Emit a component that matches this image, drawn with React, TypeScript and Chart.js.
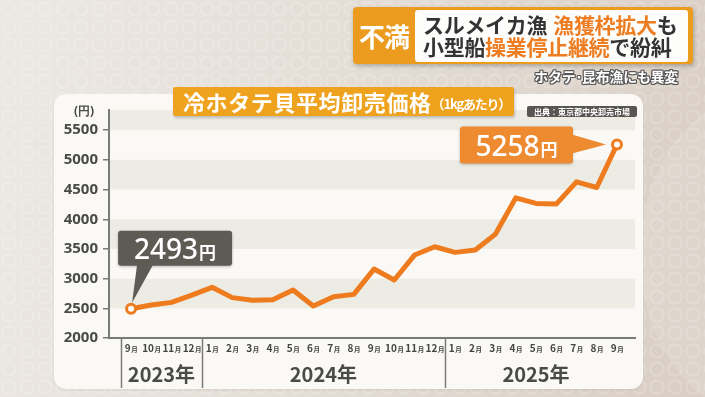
import React, { useEffect, useRef } from "react";
import { Chart, registerables } from "chart.js";

Chart.register(...registerables);

const months = ["9", "10", "11", "12", "1", "2", "3", "4", "5", "6", "7", "8", "9", "10", "11", "12", "1", "2", "3", "4", "5", "6", "7", "8", "9"];
const prices = [2493, 2555, 2600, 2723, 2853, 2680, 2635, 2645, 2808, 2538, 2695, 2735, 3161, 2976, 3397, 3537, 3442, 3481, 3750, 4360, 4266, 4255, 4630, 4535, 5258];
const years = ["2023年", "2024年", "2025年"];
const yearStart = [0, 4, 16];
const yTicks = [2000, 2500, 3000, 3500, 4000, 4500, 5000, 5500];
const startLabel = "2493";
const endLabel = "5258";
const yenLabel = "円";
const monthSuffix = "月";

const ORANGE_LINE = "#ee7b1d";
const JP = "'Noto Sans CJK JP', 'Noto Sans', sans-serif";

const decor = {
  id: "decor",
  beforeDraw(chart: any) {
    const { ctx, chartArea: a, scales } = chart;
    const y = scales.y;
    ctx.save();
    ctx.fillStyle = "#ecebe4";
    for (let k = 1; k < yTicks.length; k += 2) {
      const top = k + 1 < yTicks.length ? y.getPixelForValue(yTicks[k + 1]) : a.top;
      const bot = y.getPixelForValue(yTicks[k]);
      ctx.fillRect(a.left, top, a.right - a.left, bot - top);
    }
    ctx.restore();
  },
  afterDraw(chart: any) {
    const { ctx, chartArea: a, scales } = chart;
    const x = scales.x;
    const y = scales.y;
    ctx.save();
    ctx.fillStyle = "#444";
    ctx.textBaseline = "alphabetic";
    months.forEach((m, i) => {
      const px = x.getPixelForValue(i);
      ctx.font = `bold 10px ${JP}`;
      const w1 = ctx.measureText(m).width;
      ctx.font = `bold 6.5px ${JP}`;
      const w2 = ctx.measureText(monthSuffix).width;
      const sx = px - (w1 + w2) / 2;
      ctx.font = `bold 10px ${JP}`;
      ctx.fillText(m, sx, a.bottom + 14);
      ctx.font = `bold 6.5px ${JP}`;
      ctx.fillText(monthSuffix, sx + w1 + 0.5, a.bottom + 14);
    });
    ctx.strokeStyle = "#7a7a7a";
    ctx.lineWidth = 1.5;
    years.forEach((yr, k) => {
      const s = yearStart[k] - 0.5;
      const e = (k + 1 < yearStart.length ? yearStart[k + 1] : months.length) - 0.5;
      const sx = Math.round(x.getPixelForValue(s)) + 0.5;
      ctx.beginPath();
      ctx.moveTo(sx, a.bottom);
      ctx.lineTo(sx, a.bottom + 50);
      ctx.stroke();
      const cx = (x.getPixelForValue(s) + x.getPixelForValue(e)) / 2;
      ctx.font = `bold 20px ${JP}`;
      ctx.textAlign = "center";
      ctx.fillStyle = "#4a4a4a";
      ctx.fillText(yr, cx, a.bottom + 44);
      ctx.textAlign = "left";
    });

    const drawValue = (txt: string, cx: number, baseY: number) => {
      ctx.font = `500 28px 'Noto Sans', sans-serif`;
      const w1 = ctx.measureText(txt).width;
      ctx.font = `bold 17px ${JP}`;
      const w2 = ctx.measureText(yenLabel).width;
      const sx = cx - (w1 + w2 + 1) / 2;
      ctx.fillStyle = "#ffffff";
      ctx.font = `500 28px 'Noto Sans', sans-serif`;
      ctx.fillText(txt, sx, baseY);
      ctx.font = `bold 17px ${JP}`;
      ctx.fillText(yenLabel, sx + w1 + 1, baseY);
    };

    const p0x = x.getPixelForValue(0);
    const p0y = y.getPixelForValue(prices[0]);
    {
      const left = p0x - 13, top = p0y - 78, w = 114, h = 35;
      ctx.shadowColor = "rgba(0,0,0,0.25)";
      ctx.shadowBlur = 3;
      ctx.shadowOffsetY = 1;
      ctx.fillStyle = "#5e5b54";
      ctx.beginPath();
      ctx.roundRect(left, top, w, h, 3);
      ctx.fill();
      ctx.shadowColor = "transparent";
      ctx.beginPath();
      ctx.moveTo(p0x + 6, top + h - 1);
      ctx.lineTo(p0x + 22, top + h - 1);
      ctx.lineTo(p0x + 1, p0y - 6);
      ctx.closePath();
      ctx.fill();
      drawValue(startLabel, left + w / 2, top + 28);
    }
    const n = prices.length - 1;
    const pnx = x.getPixelForValue(n);
    const pny = y.getPixelForValue(prices[n]);
    {
      const right = pnx - 44, w = 113, h = 37, left = right - w, top = pny - 18;
      ctx.shadowColor = "rgba(0,0,0,0.25)";
      ctx.shadowBlur = 3;
      ctx.shadowOffsetY = 1;
      ctx.fillStyle = "#ee8a30";
      ctx.beginPath();
      ctx.roundRect(left, top, w, h, 3);
      ctx.fill();
      ctx.shadowColor = "transparent";
      ctx.beginPath();
      ctx.moveTo(right - 1, pny - 10);
      ctx.lineTo(right - 1, pny + 9);
      ctx.lineTo(pnx - 11, pny);
      ctx.closePath();
      ctx.fill();
      drawValue(endLabel, left + w / 2, top + 29);
    }
    ctx.restore();
  },
};

function PriceChart() {
  const ref = useRef<HTMLCanvasElement>(null);
  useEffect(() => {
    if (!ref.current) return;
    const radii = prices.map((_, i) => (i === 0 || i === prices.length - 1 ? 4.5 : 0));
    const chart = new Chart(ref.current, {
      type: "line",
      data: {
        datasets: [
          {
            data: prices.map((v, i) => ({ x: i, y: v })),
            borderColor: ORANGE_LINE,
            borderWidth: 5,
            tension: 0,
            borderJoinStyle: "round",
            borderCapStyle: "round",
            pointRadius: radii,
            pointBackgroundColor: "#ffffff",
            pointBorderColor: ORANGE_LINE,
            pointBorderWidth: 3,
            clip: false as any,
          },
        ],
      },
      options: {
        animation: false,
        responsive: false,
        maintainAspectRatio: false,
        events: [],
        layout: { padding: { left: 59, top: 110, right: 70, bottom: 0 } },
        plugins: { legend: { display: false }, tooltip: { enabled: false } },
        scales: {
          x: {
            type: "linear",
            min: -1.09,
            max: 24.89,
            ticks: { display: false },
            grid: { display: false, drawTicks: false },
            border: { display: true, color: "#7a7a7a", width: 2 },
            afterFit(s: any) {
              s.height = 59;
            },
          },
          y: {
            min: 2000,
            max: 5840,
            afterBuildTicks(s: any) {
              s.ticks = yTicks.map((v) => ({ value: v }));
            },
            ticks: {
              color: "#4a4a4a",
              font: { size: 15, weight: "bold", family: "'Noto Sans', sans-serif" },
              padding: 5,
              callback: (v: any) => String(v),
            },
            grid: { drawOnChartArea: false, drawTicks: true, tickLength: 6, color: "#7a7a7a", lineWidth: 1.5 },
            border: { display: true, color: "#7a7a7a", width: 2 },
            afterFit(s: any) {
              s.width = 50;
            },
          },
        },
      },
      plugins: [decor],
    } as any);
    return () => chart.destroy();
  }, []);
  return (
    <canvas
      ref={ref}
      width={705}
      height={397}
      style={{ position: "absolute", left: 0, top: 0, width: 705, height: 397, zIndex: 1 }}
    />
  );
}

export default function App() {
  useEffect(() => {
    document.body.style.margin = "0";
  }, []);
  const ring = "radial-gradient(circle, transparent 5px, rgba(255,255,255,0.22) 6px, rgba(255,255,255,0.22) 7px, transparent 8px)";
  return (
    <div
      style={{
        position: "fixed",
        left: 0,
        top: 0,
        width: 705,
        height: 397,
        overflow: "hidden",
        fontFamily: JP,
        background: "linear-gradient(100deg, #ece8e3 0%, #e4ded7 45%, #d9cec3 100%)",
      }}
    >
      <div style={{ position: "absolute", inset: 0, backgroundImage: ring, backgroundSize: "18px 18px", opacity: 0.8 }} />
      <div
        style={{
          position: "absolute",
          left: 640,
          top: 90,
          width: 260,
          height: 330,
          borderRadius: "50%",
          background: "rgba(255,255,255,0.12)",
        }}
      />
      <div
        style={{
          position: "absolute",
          left: 54,
          top: 94,
          width: 589,
          height: 295,
          borderRadius: 12,
          background: "#faf9f5",
          boxShadow: "0 1px 3px rgba(0,0,0,0.08)",
        }}
      />
      <div style={{ position: "absolute", left: 74, top: 102, fontSize: 12, fontWeight: 700, color: "#4a4a4a", zIndex: 2, fontFamily: "'Noto Sans', sans-serif" }}>
        (円)
      </div>
      <PriceChart />
      <div
        style={{
          position: "absolute",
          left: 173,
          top: 87,
          height: 29,
          background: "#eea21d",
          borderRadius: 2,
          boxShadow: "1px 2px 3px rgba(0,0,0,0.2)",
          zIndex: 2,
          color: "#fff",
          fontWeight: 700,
          whiteSpace: "nowrap",
          display: "flex",
          alignItems: "center",
          paddingLeft: 10,
          paddingRight: 4,
          boxSizing: "border-box",
        }}
      >
        <span style={{ fontSize: 22, letterSpacing: 0.6, lineHeight: "29px" }}>冷ホタテ貝平均卸売価格</span>
        <span style={{ fontSize: 13, letterSpacing: -1.2, lineHeight: "29px", marginTop: 3 }}>（1kgあたり）</span>
      </div>
      <div
        style={{
          position: "absolute",
          left: 527,
          top: 106,
          width: 110,
          height: 11,
          background: "#585652",
          borderRadius: 2,
          color: "#fff",
          fontSize: 8,
          lineHeight: "11px",
          textAlign: "center",
          zIndex: 2,
          whiteSpace: "nowrap",
          fontWeight: 700,
        }}
      >
        出典：東京都中央卸売市場
      </div>
      <div
        style={{
          position: "absolute",
          left: 353,
          top: 7,
          width: 340,
          height: 57,
          background: "#eb9c1f",
          borderRadius: 4,
          boxShadow: "1px 2px 4px rgba(0,0,0,0.25)",
          zIndex: 3,
        }}
      >
        <div
          style={{
            position: "absolute",
            left: 0,
            top: 0,
            width: 62,
            height: 57,
            color: "#fff",
            fontSize: 26,
            fontWeight: 700,
            lineHeight: "57px",
            textAlign: "center",
            letterSpacing: -1,
          }}
        >
          不満
        </div>
        <div
          style={{
            position: "absolute",
            left: 62,
            top: 3,
            width: 273,
            height: 52,
            background: "#fdfdfc",
            borderRadius: 3,
            color: "#333",
            fontSize: 21,
            fontWeight: 700,
            lineHeight: "22px",
            paddingLeft: 8,
            paddingTop: 3,
            boxSizing: "border-box",
            whiteSpace: "nowrap",
            letterSpacing: -0.3,
          }}
        >
          <div>
            スルメイカ漁<span style={{ display: "inline-block", width: 6 }} />
            <span style={{ color: "#ee7d22" }}>漁獲枠拡大</span>も
          </div>
          <div>
            小型船<span style={{ color: "#ee7d22" }}>操業停止継続</span>で紛糾
          </div>
        </div>
      </div>
      <div
        style={{
          position: "absolute",
          right: 27,
          top: 66,
          fontSize: 14,
          fontWeight: 700,
          color: "#fff",
          zIndex: 3,
          whiteSpace: "nowrap",
          letterSpacing: -0.3,
          textShadow:
            "1px 0 0 #555, -1px 0 0 #555, 0 1px 0 #555, 0 -1px 0 #555, 1px 1px 0 #555, -1px -1px 0 #555, 1px -1px 0 #555, -1px 1px 0 #555",
        }}
      >
        ホタテ･昆布漁にも異変
      </div>
    </div>
  );
}
